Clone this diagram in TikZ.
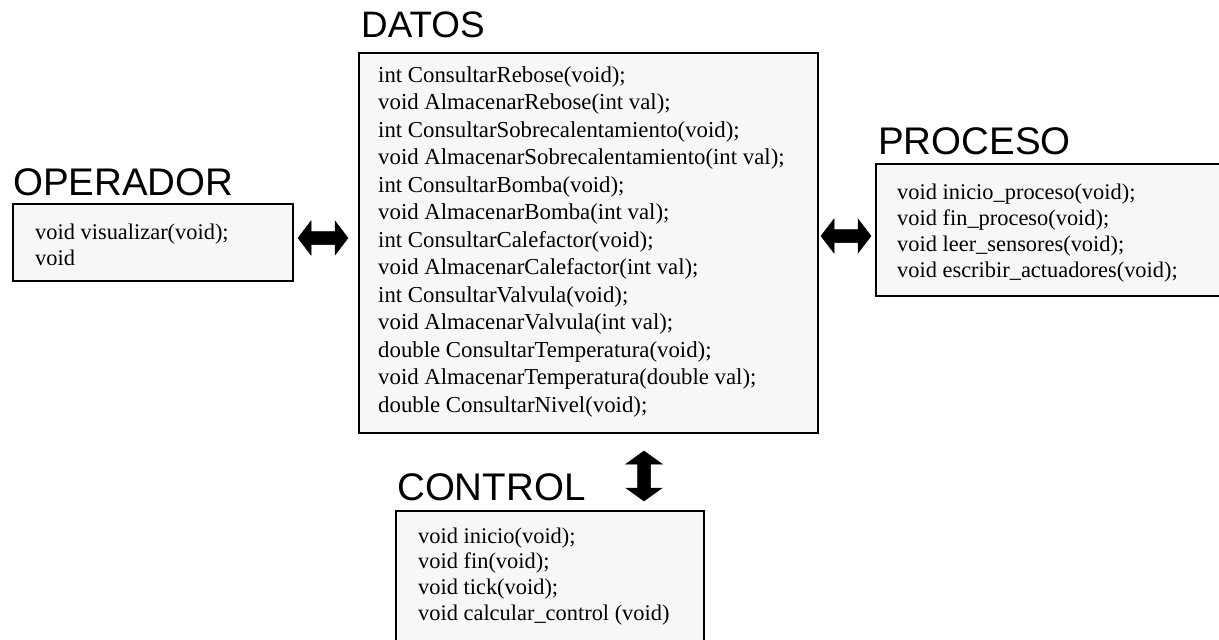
\documentclass[tikz,border=0pt]{standalone}
\usepackage{fontspec}
\setmainfont{Liberation Serif}
\newfontfamily\hdrfont{Liberation Sans}
\definecolor{boxgray}{RGB}{247,247,247}
\begin{document}
\begin{tikzpicture}[x=1pt,y=-1pt,
  boxst/.style={draw=black, line width=1.6pt, fill=boxgray, inner sep=0pt, anchor=north west},
  hdr/.style={anchor=base west, inner sep=0pt, font=\hdrfont\fontsize{38.5}{40}\selectfont},
  ln/.style={anchor=base west, inner sep=0pt, font=\fontsize{22.4}{26}\selectfont},
  arr/.style={fill=black, draw=black, line width=0.5pt, line join=miter}]
\useasboundingbox (0,0) rectangle (1219,640);
\clip (0,0) rectangle (1219,640);

% boxes
\node[boxst, minimum width=280pt, minimum height=77pt] (opbox) at (12,203) {};
\node[boxst, minimum width=459pt, minimum height=380pt] (datbox) at (358,52) {};
\node[boxst, minimum width=360pt, minimum height=132pt] (probox) at (875,163) {};
\node[boxst, minimum width=308pt, minimum height=160pt] (conbox) at (395,510) {};

% headers
\node[hdr] (ophdr) at (13,195) {OPERADOR};
\node[hdr, font=\hdrfont\fontsize{36.8}{40}\selectfont] (dathdr) at (361,37) {DATOS};
\node[hdr] (prohdr) at (878,154) {PROCESO};
\node[hdr] (conhdr) at (397,500) {CONTROL};

% OPERADOR text
\foreach \t [count=\i] in {void visualizar(void);, void}
  \node[ln] (op\i) at ({35},{239+26*(\i-1)}) {\t};

% DATOS text
\foreach \t [count=\i] in {
  int ConsultarRebose(void);,
  void AlmacenarRebose(int val);,
  int ConsultarSobrecalentamiento(void);,
  void AlmacenarSobrecalentamiento(int val);,
  int ConsultarBomba(void);,
  void AlmacenarBomba(int val);,
  int ConsultarCalefactor(void);,
  void AlmacenarCalefactor(int val);,
  int ConsultarValvula(void);,
  void AlmacenarValvula(int val);,
  double ConsultarTemperatura(void);,
  void AlmacenarTemperatura(double val);,
  double ConsultarNivel(void);}
  \node[ln, font=\fontsize{22.8}{26}\selectfont] (dl\i) at ({378},{82+27.5*(\i-1)}) {\t};

% PROCESO text
\foreach \t [count=\i] in {
  void inicio\_proceso(void);,
  void fin\_proceso(void);,
  void leer\_sensores(void);,
  void escribir\_actuadores(void);}
  \node[ln] (pl\i) at ({897},{199+26*(\i-1)}) {\t};

% CONTROL text
\foreach \t [count=\i] in {
  void inicio(void);,
  void fin(void);,
  void tick(void);,
  void calcular\_control (void)}
  \node[ln] (cl\i) at ({418},{543+25.7*(\i-1)}) {\t};

% arrows
\coordinate (la) at (323,238);
\coordinate (ra) at (846,236);
\coordinate (va) at (644,476);
\draw[arr] (la) ++(-25,0) -- ++(13,-17) -- ++(0,10.5) -- ++(24,0) -- ++(0,-10.5)
  -- ++(13,17) -- ++(-13,17) -- ++(0,-10.5) -- ++(-24,0) -- ++(0,10.5) -- cycle;
\draw[arr] (ra) ++(-25,0) -- ++(13,-17) -- ++(0,10.5) -- ++(24,0) -- ++(0,-10.5)
  -- ++(13,17) -- ++(-13,17) -- ++(0,-10.5) -- ++(-24,0) -- ++(0,10.5) -- cycle;
\draw[arr] (va) ++(0,-25) -- ++(18,13) -- ++(-11.5,0) -- ++(0,24) -- ++(11.5,0)
  -- ++(-18,13) -- ++(-18,-13) -- ++(11.5,0) -- ++(0,-24) -- ++(-11.5,0) -- cycle;
\end{tikzpicture}
\end{document}
